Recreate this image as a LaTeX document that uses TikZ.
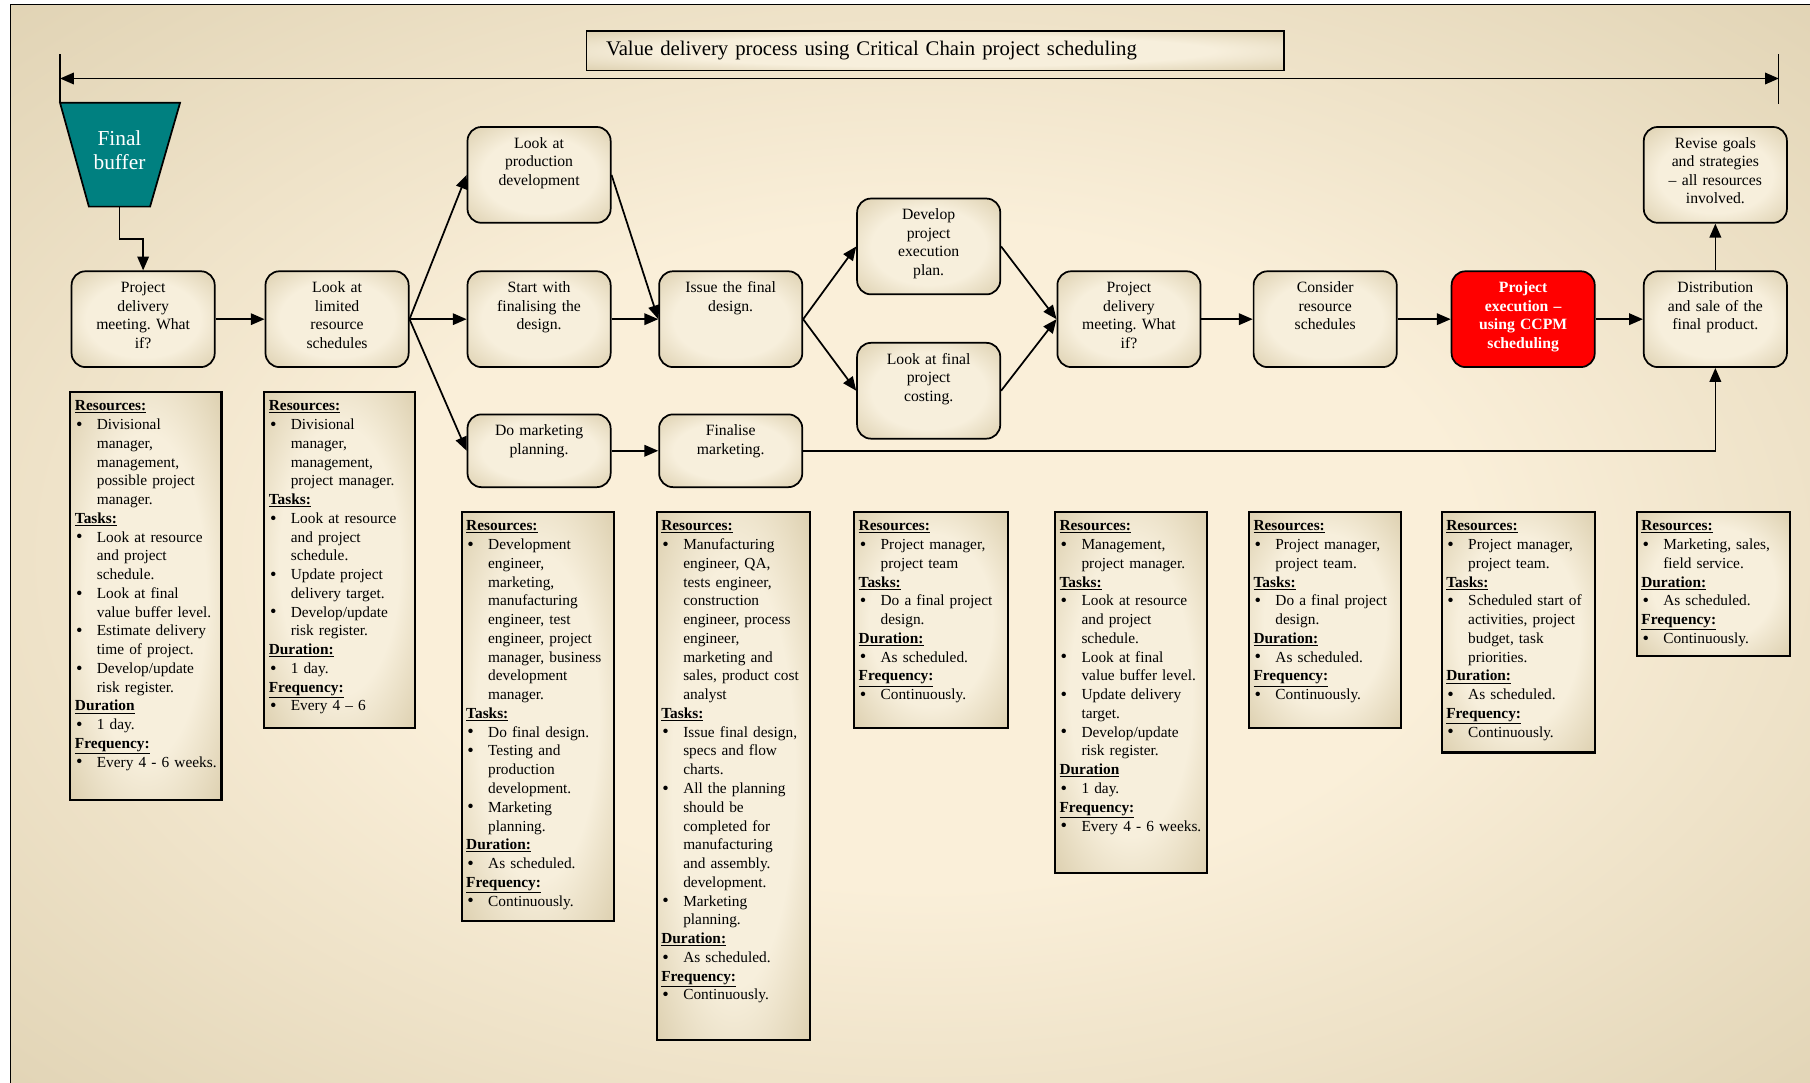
\documentclass[tikz,border=0pt]{standalone}
\usepackage{fontspec}
\setmainfont{Liberation Serif}
\usetikzlibrary{arrows.meta}

\definecolor{bgin}{HTML}{FAEFD9}
\definecolor{bgout}{HTML}{CFC09B}
\definecolor{boxin}{HTML}{F7EFDC}
\definecolor{boxout}{HTML}{CDBD95}
\definecolor{bufteal}{HTML}{008080}
\definecolor{ccpmred}{HTML}{FF0000}

\pgfdeclareradialshading{bgglow}{\pgfpoint{0bp}{0bp}}{color(0bp)=(bgin); color(15bp)=(bgin); color(50bp)=(bgout); color(72bp)=(bgout)}
\pgfdeclareradialshading{boxglow}{\pgfpoint{0bp}{0bp}}{color(0bp)=(boxin); color(20bp)=(boxin); color(45bp)=(boxout); color(72bp)=(boxout)}

\newcommand{\infofont}{\fontsize{13.3}{16.25}\selectfont\lineskip=0pt\relax}
\newcommand{\hd}[1]{\strut\underline{\textbf{#1}}}
\newcommand{\itm}[1]{\strut\makebox[19pt][l]{\hspace{1pt}\raisebox{-0.6pt}{\fontsize{16}{16}\selectfont\textbullet}}\begin{tabular}[t]{@{}l@{}}#1\end{tabular}}

\begin{document}
\frenchspacing
\begin{tikzpicture}[x=1pt, y=-1pt,
  stagebox/.style={draw, line width=1.5pt, rounded corners=12pt, text width=116pt, inner xsep=4pt, inner ysep=6pt, text height=12.5pt, text depth=58.5pt, align=center, font=\fontsize{13.6}{16}\selectfont},
  stage/.style={stagebox, shading=boxglow},
  short stage/.style={stage, text depth=38.5pt},
  hot stage/.style={stagebox, fill=ccpmred, text=white, font=\fontsize{13.6}{16}\selectfont\bfseries},
  info/.style={draw, line width=1.8pt, shading=boxglow, anchor=north west, inner xsep=4pt, inner ysep=3pt, text height=13pt, align=left, font=\infofont},
  arr/.style={-{Triangle[length=12pt,width=10pt]}, line width=1.5pt}]

\useasboundingbox (0,0) rectangle (1568,938);
\draw[line width=1.5pt, shading=bgglow] (9,4) rectangle (1590,960);

\node[draw, line width=1.5pt, shading=boxglow, minimum height=34pt, text width=570pt, inner xsep=17pt, align=left, font=\fontsize{18}{21}\selectfont] (title) at (810,44) {Value delivery process using Critical Chain project scheduling};

% span of the whole process
\coordinate (spanL) at (52,68);
\coordinate (spanR) at (1541,68);
\draw[line width=1pt] (52,47) -- (52,89) (1541,47) -- (1541,90);
\draw[{Triangle[length=12pt,width=10pt]}-{Triangle[length=12pt,width=10pt]}, line width=1.5pt] (spanL) -- (spanR);

% buffer
\filldraw[fill=bufteal, line width=1.5pt] (52,89) -- (156,89) -- (130,179) -- (77,179) -- cycle;
\node[text=white, align=center, font=\fontsize{18.5}{21}\selectfont] (buffer) at (103.5,130) {Final\\buffer};
\coordinate (bufbot) at (103.5,179);

% process stages
\node[stage] (meet1) at (124,276.5) {Project\\delivery\\meeting. What\\if?};
\node[stage] (limres) at (292,276.5) {Look at\\limited\\resource\\schedules};
\node[stage] (prod) at (467,151.5) {Look at\\production\\development};
\node[stage] (finalise) at (467,276.5) {Start with\\finalising the\\design.};
\node[short stage] (mktplan) at (467,390.5) {Do marketing\\planning.};
\node[stage] (issue) at (633,276.5) {Issue the final\\design.};
\node[short stage] (mktfinal) at (633,390.5) {Finalise\\marketing.};
\node[stage] (execplan) at (804.5,213.5) {Develop\\project\\execution\\plan.};
\node[stage] (costing) at (804.5,338.5) {Look at final\\project\\costing.};
\node[stage] (meet2) at (978,276.5) {Project\\delivery\\meeting. What\\if?};
\node[stage] (consider) at (1148,276.5) {Consider\\resource\\schedules};
\node[hot stage] (ccpm) at (1319.5,276.5) {Project\\execution --\\using CCPM\\scheduling};
\node[stage] (distrib) at (1486,276.5) {Distribution\\and sale of the\\final product.};
\node[stage] (revise) at (1486,151.5) {Revise goals\\and strategies\\-- all resources\\involved.};

\draw[arr] (bufbot) -- ++(0,28) -| (meet1.north);
\draw[arr] (meet1) -- (limres);
\draw[arr] (limres.east) -- (prod.west);
\draw[arr] (limres.east) -- (finalise.west);
\draw[arr] (limres.east) -- (mktplan.west);
\draw[arr] (prod.east) -- (issue.west);
\draw[arr] (finalise) -- (issue);
\draw[arr] (mktplan) -- (mktfinal);
\draw[arr] (issue.east) -- (execplan.west);
\draw[arr] (issue.east) -- (costing.west);
\draw[arr] (execplan.east) -- (meet2.west);
\draw[arr] (costing.east) -- (meet2.west);
\draw[arr] (meet2) -- (consider);
\draw[arr] (consider) -- (ccpm);
\draw[arr] (ccpm) -- (distrib);
\draw[arr] (distrib) -- (revise);
\draw[arr] (mktfinal.east) -| (distrib.south);

% resources, tasks, duration and frequency per stage
\node[info, text width=123pt, text depth=334pt] (inf1) at (60,339) {\hd{Resources:}\\
\itm{Divisional\\manager,\\management,\\possible project\\manager.}\\
\hd{Tasks:}\\
\itm{Look at resource\\and project\\schedule.}\\
\itm{Look at final\\value buffer level.}\\
\itm{Estimate delivery\\time of project.}\\
\itm{Develop/update\\risk register.}\\
\hd{Duration}\\
\itm{1 day.}\\
\hd{Frequency:}\\
\itm{Every 4 - 6 weeks.}};

\node[info, text width=123pt, text depth=272pt] (inf2) at (228,339) {\hd{Resources:}\\
\itm{Divisional\\manager,\\management,\\project manager.}\\
\hd{Tasks:}\\
\itm{Look at resource\\and project\\schedule.}\\
\itm{Update project\\delivery target.}\\
\itm{Develop/update\\risk register.}\\
\hd{Duration:}\\
\itm{1 day.}\\
\hd{Frequency:}\\
\itm{Every 4 -- 6}};

\node[info, text width=124pt, text depth=335pt] (inf3) at (399,443) {\hd{Resources:}\\
\itm{Development\\engineer,\\marketing,\\manufacturing\\engineer, test\\engineer, project\\manager, business\\development\\manager.}\\
\hd{Tasks:}\\
\itm{Do final design.}\\
\itm{Testing and\\production\\development.}\\
\itm{Marketing\\planning.}\\
\hd{Duration:}\\
\itm{As scheduled.}\\
\hd{Frequency:}\\
\itm{Continuously.}};

\node[info, text width=125pt, text depth=438pt] (inf4) at (568,443) {\hd{Resources:}\\
\itm{Manufacturing\\engineer, QA,\\tests engineer,\\construction\\engineer, process\\engineer,\\marketing and\\sales, product cost\\analyst}\\
\hd{Tasks:}\\
\itm{Issue final design,\\specs and flow\\charts.}\\
\itm{All the planning\\should be\\completed for\\manufacturing\\and assembly.\\development.}\\
\itm{Marketing\\planning.}\\
\hd{Duration:}\\
\itm{As scheduled.}\\
\hd{Frequency:}\\
\itm{Continuously.}};

\node[info, text width=125pt, text depth=168pt] (inf5) at (739,443) {\hd{Resources:}\\
\itm{Project manager,\\project team}\\
\hd{Tasks:}\\
\itm{Do a final project\\design.}\\
\hd{Duration:}\\
\itm{As scheduled.}\\
\hd{Frequency:}\\
\itm{Continuously.}};

\node[info, text width=124pt, text depth=293pt] (inf6) at (913,443) {\hd{Resources:}\\
\itm{Management,\\project manager.}\\
\hd{Tasks:}\\
\itm{Look at resource\\and project\\schedule.}\\
\itm{Look at final\\value buffer level.}\\
\itm{Update delivery\\target.}\\
\itm{Develop/update\\risk register.}\\
\hd{Duration}\\
\itm{1 day.}\\
\hd{Frequency:}\\
\itm{Every 4 - 6 weeks.}};

\node[info, text width=124pt, text depth=168pt] (inf7) at (1081,443) {\hd{Resources:}\\
\itm{Project manager,\\project team.}\\
\hd{Tasks:}\\
\itm{Do a final project\\design.}\\
\hd{Duration:}\\
\itm{As scheduled.}\\
\hd{Frequency:}\\
\itm{Continuously.}};

\node[info, text width=125pt, text depth=189pt] (inf8) at (1248,443) {\hd{Resources:}\\
\itm{Project manager,\\project team.}\\
\hd{Tasks:}\\
\itm{Scheduled start of\\activities, project\\budget, task\\priorities.}\\
\hd{Duration:}\\
\itm{As scheduled.}\\
\hd{Frequency:}\\
\itm{Continuously.}};

\node[info, text width=125pt, text depth=105pt] (inf9) at (1417,443) {\hd{Resources:}\\
\itm{Marketing, sales,\\field service.}\\
\hd{Duration:}\\
\itm{As scheduled.}\\
\hd{Frequency:}\\
\itm{Continuously.}};

\end{tikzpicture}
\end{document}
